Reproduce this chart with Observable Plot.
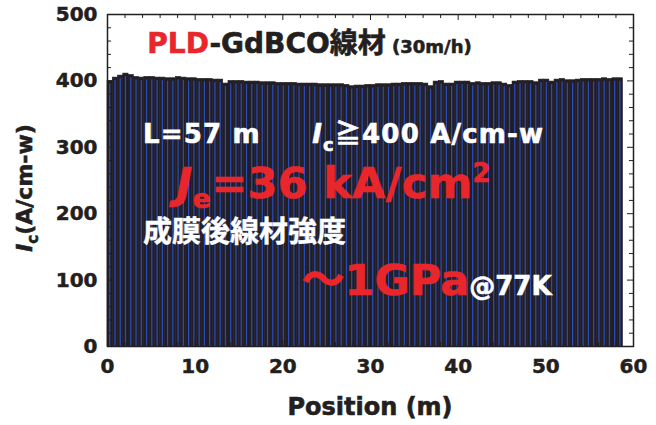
<!DOCTYPE html>
<html><head><meta charset="utf-8">
<script src="https://cdn.jsdelivr.net/npm/d3@7"></script>
<script src="https://cdn.jsdelivr.net/npm/@observablehq/plot@0.6"></script>
<style>
body{margin:0;background:#fff}
#chart svg g[aria-label*="axis"] text{stroke:#231f20;stroke-width:0.5px}
</style>
</head><body><div id="chart"></div>
<script>
// ---- data ----
const barWidth = 0.6; // m per measured segment
const icValues = [
 400,405,408,411,409,406,405,406,406,405,
 405,404,404,406,405,404,404,403,403,403,
 402,402,396,400,400,400,399,399,399,398,
 398,398,397,397,397,397,396,396,396,396,
 395,395,395,395,395,394,392,393,393,394,
 394,395,395,395,396,396,397,397,397,397,
 396,392,399,400,396,396,399,399,399,397,
 398,397,397,398,398,396,394,399,400,400,
 400,398,402,402,399,402,403,401,401,402,
 403,403,403,403,404,403,404,404];
const xTicks = [0,10,20,30,40,50,60];
const yTicks = [0,100,200,300,400,500];
const xMinor = d3.range(0, 61, 2);
const yMinor = d3.range(0, 501, 20);

const data = icValues.map((v, i) => ({x1: i * barWidth, x2: (i + 1) * barWidth, ic: v}));

const FONT = "'DejaVu Sans', 'Liberation Sans', Arial, sans-serif";
const CJK = "'Noto Sans CJK JP', 'DejaVu Sans', sans-serif";
const RED = "#e8262b", DARK = "#231f20";

const plot = Plot.plot({
  width: 656, height: 425,
  marginLeft: 107, marginRight: 23, marginTop: 14, marginBottom: 79,
  style: {fontFamily: FONT, fontSize: "20px", fontWeight: "bold", color: DARK, background: "white"},
  x: {domain: [0, 60], ticks: xTicks, tickSize: 0, tickPadding: 12, label: null},
  y: {domain: [0, 500], ticks: yTicks, tickSize: 0, tickPadding: 10, label: null},
  marks: [
    Plot.rectY(data, {x1: "x1", x2: "x2", y: "ic", fill: "#221e24", stroke: "#221e24", strokeWidth: 0.6}),
    Plot.rectY(data, {x1: "x1", x2: "x2", y: "ic", fill: "#2a4cb8", insetLeft: 2.1, insetRight: 1.9, insetTop: 3}),
    // inward ticks
    Plot.ruleX(xMinor, {y1: 0, y2: d => d % 10 === 0 ? 9 : 6, stroke: DARK}),
    Plot.ruleX(xMinor, {y1: 500, y2: d => d % 10 === 0 ? 491 : 494, stroke: DARK}),
    Plot.ruleY(yMinor, {x1: 0, x2: d => d % 100 === 0 ? 0.68 : 0.46, stroke: DARK}),
    Plot.ruleY(yMinor, {x1: 60, x2: d => d % 100 === 0 ? 59.32 : 59.54, stroke: DARK}),
    Plot.frame({stroke: DARK, strokeWidth: 1.5})
  ]
});
document.getElementById("chart").appendChild(plot);

// ---- rich-text annotations positioned with the plot's scales ----
const sx = plot.scale("x"), sy = plot.scale("y");
const svg = d3.select(plot);

function rich(x, y, parts, extra = {}) {
  const t = svg.append("text")
    .attr("x", x).attr("y", y)
    .attr("text-anchor", extra.anchor || "start")
    .attr("font-family", FONT).attr("font-weight", "bold");
  if (extra.transform) t.attr("transform", extra.transform);
  if (extra.spacing) t.attr("letter-spacing", extra.spacing);
  let shift = 0;
  for (const p of parts) {
    const col = p.fill || DARK;
    const ts = t.append("tspan").text(p.t)
      .attr("font-size", p.size)
      .attr("fill", col)
      .attr("stroke", col)
      .attr("stroke-width", p.sw == null ? 0.6 : p.sw);
    if (p.family) ts.attr("font-family", p.family);
    if (p.italic) ts.attr("font-style", "italic");
    const want = p.dy || 0;
    if (want !== shift) { ts.attr("dy", want - shift); shift = want; }
    if (p.dx) ts.attr("dx", p.dx);
  }
  return t;
}

// title
rich(sx.apply(4.6), sy.apply(441), [
  {t: "PLD", size: 28, fill: RED},
  {t: "-GdBCO", size: 28},
  {t: "線材", size: 28, family: CJK},
  {t: " (30m/h)", size: 18}
]);
// L = 57 m
rich(sx.apply(4.1), sy.apply(306), [{t: "L=57 m", size: 26, fill: "white"}], {spacing: 1.2});
// Ic >= 400
rich(sx.apply(23.4), sy.apply(306), [
  {t: "I", size: 26, fill: "white", italic: true},
  {t: "c", size: 18, fill: "white", dy: 8},
  {t: "≧", size: 26, fill: "white", family: CJK, dy: 0},
  {t: "400 A/cm-w", size: 26, fill: "white"}
], {spacing: 1.2});
// Je
rich(sx.apply(7.9), sy.apply(223), [
  {t: "J", size: 43, fill: RED, italic: true},
  {t: "e", size: 27, fill: RED, dy: 10},
  {t: "=36 kA/cm", size: 43, fill: RED, dy: 0},
  {t: "2", size: 26, fill: RED, dy: -16}
], {spacing: 0.3});
// strength
rich(sx.apply(4.1), sy.apply(156), [{t: "成膜後線材強度", size: 29, fill: "white", family: CJK, sw: 0.4}]);
// ~1GPa @77K
rich(sx.apply(22.2), sy.apply(77), [
  {t: "～", size: 43, fill: RED, family: CJK},
  {t: "1GPa", size: 43, fill: RED},
  {t: "@77K", size: 26, fill: "white"}
]);

// axis titles
rich(370, 415, [{t: "Position (m)", size: 24}], {anchor: "middle"});
rich(0, 0, [
  {t: "I", size: 22, italic: true},
  {t: "c", size: 15, dy: 6},
  {t: "(A/cm-w)", size: 22, dy: 0}
], {anchor: "middle", transform: "translate(32,188) rotate(-90)"});
</script>
</body></html>
